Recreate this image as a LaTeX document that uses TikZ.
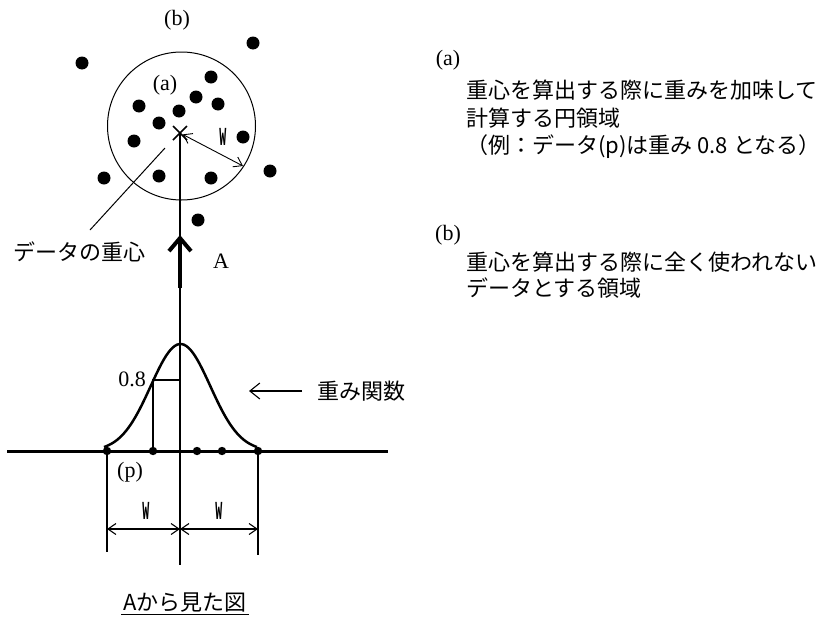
\documentclass[tikz,border=0pt]{standalone}
\usepackage{fontspec}
\setmainfont{Liberation Serif}
\setmonofont{Liberation Mono}
\newfontfamily\jpfont{Noto Sans CJK JP}
\usepackage{tikz}
\usetikzlibrary{arrows.meta, positioning, calc}
\tikzstyle{region} = [
    circle,
    draw,
    line width=1pt,
    minimum size=148pt,
    inner sep=0pt
]
\tikzstyle{jtext} = [
    font=\jpfont\fontsize{22}{26}\selectfont,
    inner sep=0pt,
    anchor=west
]
\tikzstyle{tag} = [
    font=\fontsize{22}{26}\selectfont,
    inner sep=0pt
]
\tikzstyle{wtag} = [
    font=\ttfamily\bfseries\fontsize{26}{30}\selectfont,
    inner sep=0pt
]
\tikzstyle{axis} = [
    line width=1.4pt
]
\tikzstyle{dim} = [
    line width=1.1pt,
    {Straight Barb[length=8pt,width=11pt]}-{Straight Barb[length=8pt,width=11pt]}
]
\tikzstyle{pointer} = [
    line width=1.1pt,
    -{Straight Barb[length=10pt,width=16pt]}
]
\tikzstyle{bigarrow} = [
    line width=4pt,
    -{Straight Barb[length=13pt,width=22pt]}
]
\newcommand{\wlabel}{\scalebox{0.45}[1]{W}}

\begin{document}
\begin{tikzpicture}[x=1pt, y=-1pt]
        \useasboundingbox (0,0) rectangle (827,624);
        % Region and data
        \node[region] (circ) at (181.5,126) {};
        \coordinate (cg) at (180,133);
        \foreach \px/\py in {253/43, 82/63, 211/77, 196/97, 218/104, 139/106, 179/111,
            159/123, 134/141, 243/137, 104/178, 159/176, 211/178, 270/171, 198/220}
            \fill (\px,\py) circle (6.5);
        \draw[line width=1.6pt] ($(cg)+(-7,-7)$) -- ($(cg)+(7,7)$)
            ($(cg)+(-7,7)$) -- ($(cg)+(7,-7)$);
        \node[tag] (lb) at (177,20) {(b)};
        \node[tag] (la) at (165,85) {(a)};
        \coordinate (rim) at (243,166);
        \draw[dim, line width=0.9pt, shorten <=3pt] (cg) -- (rim);
        \node[wtag] (wr) at (223,137) {\wlabel};
        
        % Centre of gravity
        \coordinate (lead) at (165,148);
        \coordinate (leadend) at (90,230);
        \draw[line width=1pt] (lead) -- (leadend);
        \node[jtext, anchor=center] (cgtext) at (79,252) {データの重心};
        
        % View direction
        \coordinate (axbot) at (180,565);
        \draw[axis] (cg) -- (axbot);
        \coordinate (ah0) at (180,288);
        \coordinate (ah1) at (180,235);
        \draw[bigarrow] (ah0) -- (ah1);
        \node[tag] (va) at (221,261) {A};
        
        % Weight function
        \coordinate (bl) at (7,451);
        \coordinate (br) at (388,451);
        \draw[line width=3pt] (bl) -- (br);
        \draw[line width=2.5pt] plot[domain=104:257, samples=70, smooth]
            (\x, {451-107*exp(-(\x-180.5)^2/1776)});
        \coordinate (p08) at (153,380);
        \coordinate (p0) at (153,451);
        \coordinate (ax08) at (180,380);
        \draw[line width=1.2pt] (p0) -- (p08) -- (ax08);
        \node[tag, anchor=east] (v08) at (146,379) {0.8};
        \foreach \px in {107,153,197,222,258}
            \fill (\px,451) circle (4.2);
        \node[tag] (pp) at (130,472) {(p)};
        \node[jtext] (wfunc) at (317,391) {重み関数};
        \draw[pointer] ($(wfunc.west)+(-15,0)$) -- ++(-53,0);
        
        % Dimensions
        \coordinate (el0) at (107,451);
        \coordinate (el1) at (107,552);
        \coordinate (er0) at (258,451);
        \coordinate (er1) at (258,555);
        \draw[line width=1.2pt] (el0) -- (el1) (er0) -- (er1);
        \coordinate (dl) at (107,529);
        \coordinate (dc) at (180,529);
        \coordinate (dr) at (258,529);
        \draw[dim] (dl) -- (dc);
        \draw[dim] (dc) -- (dr);
        \node[wtag] (wl) at (146,511) {\wlabel};
        \node[wtag] (wrr) at (219,511) {\wlabel};
        \node[jtext, anchor=center, inner sep=2pt] (title) at (185,603) {Aから見た図};
        \draw[line width=1pt] (title.south west) -- (title.south east);
        
        % Legend
        \node[tag] (ta) at (448,60) {(a)};
        \node[jtext] (ta1) at (466,90) {重心を算出する際に重みを加味して};
        \node[jtext] (ta2) at (466,118) {計算する円領域};
        \node[jtext] (ta3) at (466,147) {（例：データ(p)は重み 0.8 となる）};
        \node[tag] (tb) at (448,235) {(b)};
        \node[jtext] (tb1) at (466,262) {重心を算出する際に全く使われない};
        \node[jtext] (tb2) at (466,288) {データとする領域};
    \end{tikzpicture}
\end{document}
